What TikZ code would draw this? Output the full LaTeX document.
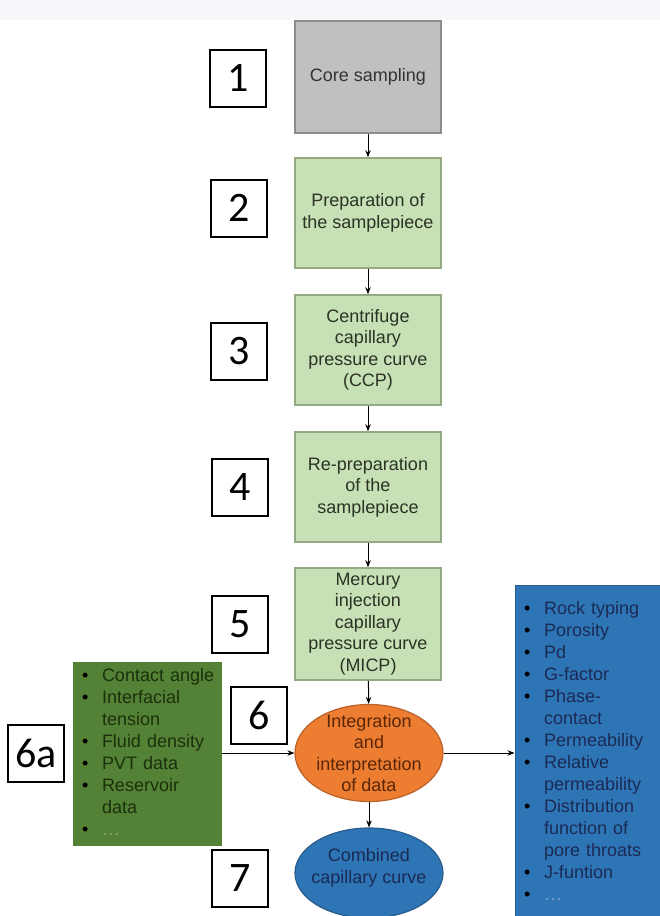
\documentclass[tikz,border=0pt]{standalone}
\usepackage{fontspec}
\setmainfont{Liberation Sans}
\newfontfamily\numfont{Carlito}
\usetikzlibrary{shapes.geometric,arrows.meta}
\definecolor{bandc}{HTML}{F7F8FC}
\definecolor{grayfill}{HTML}{C0C0C0}
\definecolor{grayline}{HTML}{8C8C8C}
\definecolor{lgfill}{HTML}{C7E0B5}
\definecolor{lgline}{HTML}{93AA84}
\definecolor{lgtext}{HTML}{2B3325}
\definecolor{dgfill}{HTML}{538135}
\definecolor{dgtext}{HTML}{1B300C}
\definecolor{dgdots}{HTML}{8FA67A}
\definecolor{orfill}{HTML}{ED7D31}
\definecolor{orline}{HTML}{B9612A}
\definecolor{ortext}{HTML}{5A2608}
\definecolor{blfill}{HTML}{2E75B6}
\definecolor{blline}{HTML}{2A5C8C}
\definecolor{bltext}{HTML}{1B2A55}
\definecolor{bldots}{HTML}{7FA3CC}
\newcommand\mybul{\makebox[20pt][l]{\color{black}\textbullet}}
\newcommand\myind{\hspace*{20pt}}
\newcommand\mylist[1]{\begin{tabular}{@{}l@{}}#1\end{tabular}}
\begin{document}
\begin{tikzpicture}[x=1pt,y=-1pt,
  txt/.style={font=\fontsize{18}{21.5}\selectfont, align=center},
  stepbox/.style={rectangle, draw=lgline, line width=1.5pt, fill=lgfill, minimum width=146pt, inner sep=0pt, txt, text=lgtext},
  numbox/.style={rectangle, draw=black, line width=2pt, fill=white, minimum width=56pt, minimum height=57pt, inner sep=0pt, font=\numfont\fontsize{42}{42}\selectfont},
  listbox/.style={rectangle, inner ysep=0pt, inner xsep=9pt, align=left, font=\fontsize{18}{22}\selectfont},
  arr/.style={-{Stealth[length=7pt,width=5.5pt]}, line width=1pt, black}
]
\useasboundingbox (0,0) rectangle (660,916);
\fill[bandc] (0,0) rectangle (660,20);

% main steps
\node[stepbox, draw=grayline, fill=grayfill, text=black!80, minimum height=112pt] (b1) at (368,77) {Core sampling};
\node[stepbox, minimum height=110pt] (b2) at (368,213) {Preparation of\\the samplepiece};
\node[stepbox, minimum height=110pt] (b3) at (368,350) {Centrifuge\\capillary\\pressure curve\\(CCP)};
\node[stepbox, minimum height=110pt] (b4) at (368,487) {Re-preparation\\of the\\samplepiece};
\node[stepbox, minimum height=112pt] (b5) at (368,624) {Mercury\\injection\\capillary\\pressure curve\\(MICP)};

\node[ellipse, draw=orline, line width=1.2pt, fill=orfill, minimum width=148pt, minimum height=97pt, inner sep=0pt] (integ) at (369,753) {};
\node[txt, text=ortext] (integtxt) at (integ.center) {Integration\\and\\interpretation\\of data};

\node[ellipse, draw=blline, line width=1.2pt, fill=blfill, minimum width=148pt, minimum height=90pt, inner sep=0pt] (comb) at (369,873) {};
\node[txt, text=bltext] (combtxt) at (369,868) {Combined\\capillary curve};

% side lists
\node[listbox, fill=dgfill, text=dgtext, text width=131pt, minimum height=184pt] (data) at (147.5,754) {\mylist{
\mybul Contact angle\\
\mybul Interfacial\\
\myind tension\\
\mybul Fluid density\\
\mybul PVT data\\
\mybul Reservoir\\
\myind data\\
\mybul {\color{dgdots}\dots}
}};

\node[listbox, fill=blfill, draw=blline, line width=1pt, text=bltext, text width=128pt, minimum height=336pt] (res) at (588,753) {\mylist{
\mybul Rock typing\\
\mybul Porosity\\
\mybul Pd\\
\mybul G-factor\\
\mybul Phase-\\
\myind contact\\
\mybul Permeability\\
\mybul Relative\\
\myind permeability\\
\mybul Distribution\\
\myind function of\\
\myind pore throats\\
\mybul J-funtion\\
\mybul {\color{bldots}\dots}
}};

% number labels
\node[numbox] (n1) at (238,78) {1};
\node[numbox] (n2) at (239,208) {2};
\node[numbox] (n3) at (239,351) {3};
\node[numbox] (n4) at (240,487) {4};
\node[numbox] (n5) at (240,624) {5};
\node[numbox] (n6) at (259,715) {6};
\node[numbox] (n6a) at (36,753) {6a};
\node[numbox] (n7) at (240,878) {7};

% connectors
\draw[arr] (b1) -- (b2);
\draw[arr] (b2) -- (b3);
\draw[arr] (b3) -- (b4);
\draw[arr] (b4) -- (b5);
\draw[arr] (b5) -- (integ);
\draw[arr] (integ) -- (comb);
\draw[arr] (data.east |- integ.west) -- (integ.west);
\draw[arr] (integ.east) -- (res.west |- integ.east);
\end{tikzpicture}
\end{document}
